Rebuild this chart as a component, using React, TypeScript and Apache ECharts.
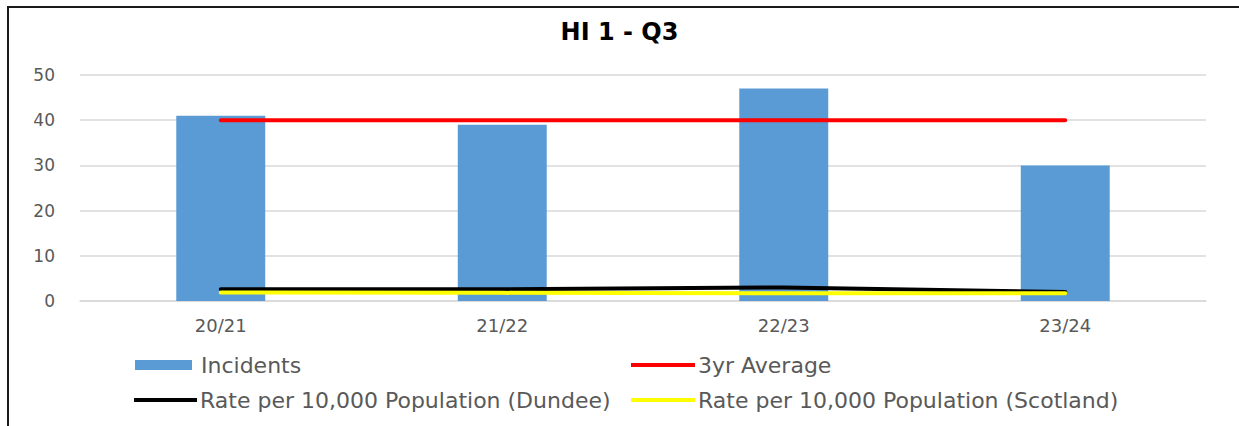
import React, { useEffect, useRef } from "react";
import * as echarts from "echarts";

const categories = ["20/21", "21/22", "22/23", "23/24"];
const incidents = [41, 39, 47, 30];
const threeYearAverage = [40, 40, 40, 40];
const rateDundee = [2.6, 2.6, 3.0, 2.0];
const rateScotland = [1.9, 1.8, 1.7, 1.7];
const yTicks = [0, 10, 20, 30, 40, 50];

const LABEL_COLOR = "#595959";
const FONT = "DejaVu Sans";

export default function App() {
  const ref = useRef<HTMLDivElement>(null);

  useEffect(() => {
    document.body.style.margin = "0";
    if (!ref.current) return;
    const chart = echarts.init(ref.current, null, { renderer: "svg" });
    const legendText = { color: LABEL_COLOR, fontFamily: FONT, fontSize: 22 };
    chart.setOption({
      animation: false,
      backgroundColor: "#ffffff",
      title: {
        text: "HI 1 - Q3",
        left: "center",
        top: 20,
        padding: 0,
        textStyle: { fontFamily: FONT, fontWeight: "bold", fontSize: 24, color: "#000000" },
      },
      grid: { left: 80, right: 33, top: 75, bottom: 125, containLabel: false },
      legend: [
        {
          data: [{ name: "Incidents", icon: "rect" }],
          left: 135, top: 354, padding: 0, itemWidth: 57, itemHeight: 10, itemGap: 0,
          textStyle: { ...legendText, padding: [0, 0, 0, 4] },
        },
        {
          data: [{ name: "3yr Average", icon: "rect" }],
          left: 631, top: 354, padding: 0, itemWidth: 64, itemHeight: 4, itemGap: 0,
          textStyle: { ...legendText, padding: [0, 0, 0, -2] },
        },
        {
          data: [{ name: "Rate per 10,000 Population (Dundee)", icon: "rect" }],
          left: 134, top: 389, padding: 0, itemWidth: 63, itemHeight: 4, itemGap: 0,
          textStyle: { ...legendText, padding: [0, 0, 0, -2] },
        },
        {
          data: [{ name: "Rate per 10,000 Population (Scotland)", icon: "rect" }],
          left: 631, top: 389, padding: 0, itemWidth: 64, itemHeight: 4, itemGap: 0,
          textStyle: { ...legendText, padding: [0, 0, 0, -2] },
        },
      ],
      xAxis: {
        type: "category",
        data: categories,
        boundaryGap: true,
        axisLine: { show: true, lineStyle: { color: "#d9d9d9", width: 1.5 } },
        axisTick: { show: false },
        axisLabel: { color: LABEL_COLOR, fontFamily: FONT, fontSize: 18, margin: 15 },
      },
      yAxis: {
        type: "value",
        min: yTicks[0],
        max: yTicks[yTicks.length - 1],
        interval: yTicks[1] - yTicks[0],
        axisLine: { show: false },
        axisTick: { show: false },
        axisLabel: { color: LABEL_COLOR, fontFamily: FONT, fontSize: 17, margin: 25 },
        splitLine: { lineStyle: { color: "#d9d9d9", width: 1.5 } },
      },
      series: [
        {
          name: "Incidents",
          type: "bar",
          data: incidents,
          barWidth: "31.6%",
          itemStyle: { color: "#5B9BD5" },
          z: 1,
        },
        {
          name: "3yr Average",
          type: "line",
          data: threeYearAverage,
          symbol: "none",
          lineStyle: { color: "#FF0000", width: 4, cap: "round" },
          itemStyle: { color: "#FF0000" },
          z: 3,
        },
        {
          name: "Rate per 10,000 Population (Dundee)",
          type: "line",
          data: rateDundee,
          symbol: "none",
          lineStyle: { color: "#000000", width: 4, cap: "round" },
          itemStyle: { color: "#000000" },
          z: 3,
        },
        {
          name: "Rate per 10,000 Population (Scotland)",
          type: "line",
          data: rateScotland,
          symbol: "none",
          lineStyle: { color: "#FFFF00", width: 4, cap: "round" },
          itemStyle: { color: "#FFFF00" },
          z: 4,
        },
      ],
      graphic: [
        { type: "line", shape: { x1: 8, y1: 7, x2: 1239, y2: 7 }, style: { stroke: "#1a1a1a", lineWidth: 2 } },
        { type: "line", shape: { x1: 8, y1: 6, x2: 8, y2: 426 }, style: { stroke: "#1a1a1a", lineWidth: 2 } },
      ],
    });
    return () => chart.dispose();
  }, []);

  return <div ref={ref} style={{ width: 1239, height: 426 }} />;
}
